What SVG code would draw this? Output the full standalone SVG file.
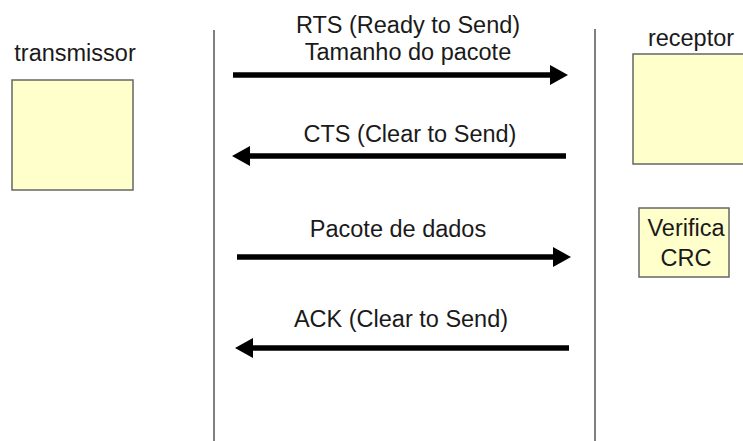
<svg xmlns="http://www.w3.org/2000/svg" width="743" height="441" viewBox="0 0 743 441">
<style>
text{font-family:"Liberation Sans",Arial,sans-serif;font-size:23.5px;fill:#1a1a1a;text-anchor:middle}
.box{fill:#ffffcc;stroke:#666;stroke-width:1.5}
.life{stroke:#555;stroke-width:1.5}
.arr{stroke:#000;stroke-width:5.5;fill:none}
.head{fill:#000}
</style>
<rect width="743" height="441" fill="#fff"/>
<g id="lifelines">
<line class="life" x1="214" y1="30" x2="214" y2="441"/>
<line class="life" x1="595" y1="29" x2="595" y2="441"/>
</g>
<g id="transmissor">
<text x="75" y="61">transmissor</text>
<rect class="box" x="12" y="80" width="121" height="110"/>
</g>
<g id="receptor">
<text x="691" y="46">receptor</text>
<rect class="box" x="633" y="54" width="115" height="110"/>
</g>
<g id="verifica">
<rect class="box" x="639" y="208" width="90" height="69"/>
<text x="686" y="236">Verifica</text>
<text x="686" y="266">CRC</text>
</g>
<g id="connectors">
<line class="arr" x1="233" y1="75" x2="552" y2="75"/>
<polygon class="head" points="550,65 568,75 550,85"/>
<line class="arr" x1="249" y1="156" x2="566" y2="156"/>
<polygon class="head" points="250,146 232,156 250,166"/>
<line class="arr" x1="237" y1="257" x2="555" y2="257"/>
<polygon class="head" points="553,247 571,257 553,267"/>
<line class="arr" x1="252" y1="348" x2="569" y2="348"/>
<polygon class="head" points="253,338 235,348 253,358"/>
</g>
<g id="labels">
<text x="408" y="33">RTS (Ready to Send)</text>
<text x="408" y="60">Tamanho do pacote</text>
<text x="410" y="142">CTS (Clear to Send)</text>
<text x="398" y="237">Pacote de dados</text>
<text x="401" y="327">ACK (Clear to Send)</text>
</g>
</svg>
